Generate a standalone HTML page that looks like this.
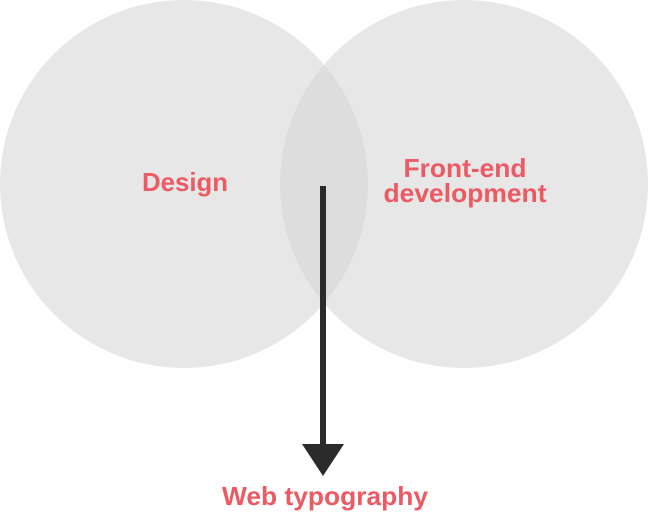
<!DOCTYPE html>
<html><head><style>html,body{margin:0;padding:0;background:#fff}</style></head>
<body>
<svg width="648" height="512" viewBox="0 0 648 512" xmlns="http://www.w3.org/2000/svg">
<circle cx="184" cy="184" r="184" fill="#e7e7e7"/>
<circle cx="464" cy="184" r="184" fill="#e7e7e7"/>
<clipPath id="c"><circle cx="184" cy="184" r="184"/></clipPath>
<circle cx="464" cy="184" r="184" fill="#dddddd" clip-path="url(#c)"/>
<rect x="320" y="186" width="6" height="262" fill="#2b2b2b"/>
<polygon points="302,444 344,444 323,476" fill="#2b2b2b"/>
<g font-family="Liberation Sans, sans-serif" font-weight="bold" font-size="26" fill="#ec5a63" text-anchor="middle">
<text x="185" y="191" textLength="86" lengthAdjust="spacingAndGlyphs">Design</text>
<text x="465" y="177" textLength="123" lengthAdjust="spacingAndGlyphs">Front-end</text>
<text x="465" y="202" textLength="163" lengthAdjust="spacingAndGlyphs">development</text>
<text x="325" y="505" textLength="206" lengthAdjust="spacingAndGlyphs">Web typography</text>
</g>
</svg>
</body></html>
